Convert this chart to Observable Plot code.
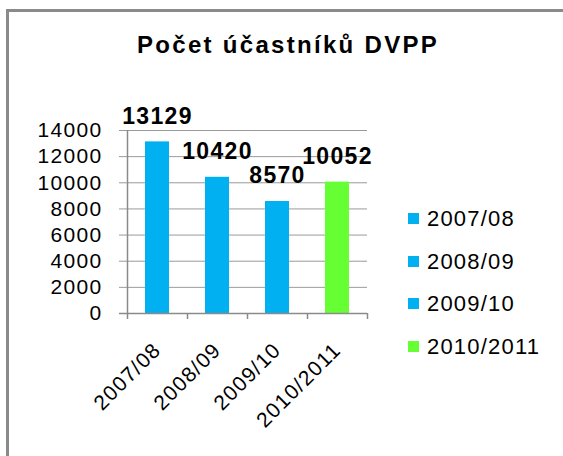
<!DOCTYPE html>
<html>
<head>
<meta charset="utf-8">
<script src="https://cdn.jsdelivr.net/npm/d3@7"></script>
<script src="https://cdn.jsdelivr.net/npm/@observablehq/plot@0.6"></script>
<style>
  html, body { margin: 0; padding: 0; background: #fff; }
  body { width: 563px; height: 456px; position: relative; overflow: hidden; font-family: "Liberation Sans", Arial, sans-serif; }
  #frame { position: absolute; left: 6px; top: 9px; width: 700px; height: 600px; border-top: 3px solid #8a8a8a; border-left: 3px solid #8a8a8a; box-sizing: border-box; }
  #title { position: absolute; left: 137px; top: 33px; font-size: 24px; line-height: 24px; font-weight: bold; letter-spacing: 2.3px; white-space: nowrap; color: #000; }
  #chart { position: absolute; left: 0; top: 0; }
  #legend { position: absolute; left: 408px; top: 0; }
  .row { position: absolute; left: 0; height: 22px; white-space: nowrap; font-size: 22px; line-height: 22px; letter-spacing: 1.2px; color: #000; }
  .sw { position: absolute; left: 0; top: 5px; width: 11px; height: 11px; }
  .lt { position: absolute; left: 19px; top: 0; }
</style>
</head>
<body>
<div id="frame"></div>
<div id="title">Počet účastníků DVPP</div>
<div id="chart"></div>
<div id="legend"></div>
<script>
const categories = ["2007/08", "2008/09", "2009/10", "2010/2011"];
const values = [13129, 10420, 8570, 10052];
const colors = ["#00B0F0", "#00B0F0", "#00B0F0", "#66FF33"];
const yTicks = [0, 2000, 4000, 6000, 8000, 10000, 12000, 14000];

const data = categories.map((c, i) => ({cat: c, value: values[i], color: colors[i]}));

const W = 563, H = 456;
const mL = 127, mR = 196, mT = 130, mB = 143;
const step = (W - mL - mR) / categories.length;
const plotH = H - mT - mB;

const chart = Plot.plot({
  width: W,
  height: H,
  marginLeft: mL,
  marginRight: mR,
  marginTop: mT,
  marginBottom: mB,
  style: {fontFamily: "'Liberation Sans', Arial, sans-serif", fontSize: "21px", color: "#000", background: "transparent", letterSpacing: "1.3px"},
  x: {domain: categories, paddingInner: 0.6, paddingOuter: 0.3, label: null, tickSize: 0, tickRotate: -45, tickPadding: 33},
  y: {domain: [0, 14000], ticks: yTicks, tickFormat: d => String(d), label: null, tickSize: 0, tickPadding: 25},
  color: {type: "identity"},
  marks: [
    Plot.ruleY(yTicks, {stroke: "#9a9a9a", strokeWidth: 1, insetLeft: -8}),
    Plot.barY(data, {x: "cat", y: "value", fill: "color"}),
    Plot.ruleY([0], {stroke: "#8a8a8a", strokeWidth: 1.5, insetLeft: -8}),
    Plot.ruleX([categories[0]], {dx: -step / 2, stroke: "#8a8a8a", strokeWidth: 1.5}),
    Plot.ruleX(categories, {dx: -step / 2, stroke: "#8a8a8a", strokeWidth: 1.5, insetTop: plotH, insetBottom: -6}),
    Plot.ruleX([categories[categories.length - 1]], {dx: step / 2, stroke: "#8a8a8a", strokeWidth: 1.5, insetTop: plotH, insetBottom: -6}),
    Plot.text(data, {x: "cat", y: "value", text: d => String(d.value), dy: -18, lineAnchor: "bottom", fontSize: 23, fontWeight: "bold", fill: "#000"})
  ]
});
document.getElementById("chart").appendChild(chart);

const legend = document.getElementById("legend");
categories.forEach((c, i) => {
  const row = document.createElement("div");
  row.className = "row";
  row.style.top = (208 + i * 42.7) + "px";
  const sw = document.createElement("div");
  sw.className = "sw";
  sw.style.background = colors[i];
  const lt = document.createElement("div");
  lt.className = "lt";
  lt.textContent = c;
  row.appendChild(sw);
  row.appendChild(lt);
  legend.appendChild(row);
});
</script>
</body>
</html>
